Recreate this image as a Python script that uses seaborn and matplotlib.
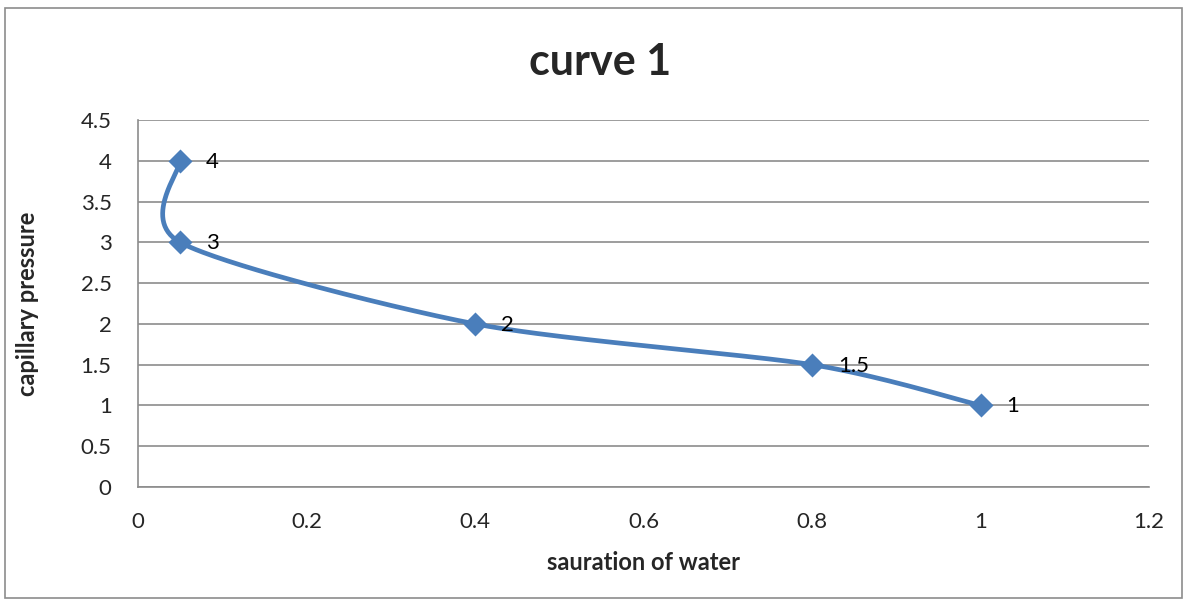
import numpy as np
import matplotlib
matplotlib.use("Agg")
import matplotlib.pyplot as plt
import seaborn as sns
from matplotlib.patches import Rectangle

saturation = [0.05, 0.05, 0.4, 0.8, 1.0]
pressure = [4, 3, 2, 1.5, 1]
point_labels = ["4", "3", "2", "1.5", "1"]
x_ticks = [0, 0.2, 0.4, 0.6, 0.8, 1, 1.2]
x_tick_labels = ["0", "0.2", "0.4", "0.6", "0.8", "1", "1.2"]
y_ticks = [0, 0.5, 1, 1.5, 2, 2.5, 3, 3.5, 4, 4.5]
y_tick_labels = ["0", "0.5", "1", "1.5", "2", "2.5", "3", "3.5", "4", "4.5"]

sns.set_theme(style="white")
plt.rcParams['font.family'] = ['Lato', 'DejaVu Sans']

W, H = 1187, 603
fig = plt.figure(figsize=(W / 100, H / 100), dpi=100)
ax = fig.add_axes([138 / W, 1 - 487 / H, (1149 - 138) / W, (487 - 120) / H])
ax.set_xlim(0, 1.2)
ax.set_ylim(0, 4.5)

blue = "#4A7EBB"

# smooth curve (cubic Bezier through points in display space, like Excel smoothing)
pts = ax.transData.transform(np.column_stack([saturation, pressure]))
P = np.vstack([pts[0], pts, pts[-1]])
curve = []
k = 1 / 7.5
for i in range(1, len(P) - 2):
    p0, p1, p2, p3 = P[i - 1], P[i], P[i + 1], P[i + 2]
    c1 = p1 + (p2 - p0) * k
    c2 = p2 - (p3 - p1) * k
    t = np.linspace(0, 1, 60)[:, None]
    seg = (1 - t) ** 3 * p1 + 3 * (1 - t) ** 2 * t * c1 + 3 * (1 - t) * t ** 2 * c2 + t ** 3 * p2
    curve.append(seg)
curve = ax.transData.inverted().transform(np.vstack(curve))
ax.plot(curve[:, 0], curve[:, 1], color=blue, lw=3.4, solid_capstyle="round", zorder=3)

sns.scatterplot(x=saturation, y=pressure, ax=ax, marker="D", s=150, color=blue,
                edgecolor=blue, linewidth=0, zorder=4, legend=False)

for xv, yv, lab in zip(saturation, pressure, point_labels):
    ax.annotate(lab, (xv, yv), xytext=(26, -1), textcoords="offset pixels",
                ha="left", va="center", fontsize=16, color="black")

ax.set_xticks(x_ticks)
ax.set_xticklabels(x_tick_labels, fontsize=16)
ax.set_yticks(y_ticks)
ax.set_yticklabels(y_tick_labels, fontsize=16)
ax.tick_params(axis="x", pad=18, length=0)
ax.tick_params(axis="y", pad=19, length=0)
ax.yaxis.grid(True, color="#8C8C8C", lw=1.2)
ax.xaxis.grid(False)
for s in ["top", "right"]:
    ax.spines[s].set_visible(False)
for s in ["left", "bottom"]:
    ax.spines[s].set_color("#8C8C8C")
    ax.spines[s].set_linewidth(1.2)

ax.set_xlabel("sauration of water", fontsize=17, fontweight="bold", labelpad=14)
ax.set_ylabel("capillary pressure", fontsize=17, fontweight="bold", labelpad=30)
fig.text(600 / W, 1 - 62 / H, "curve 1", ha="center", va="center", fontsize=31, fontweight="bold")

fig.patches.append(Rectangle((5 / W, 1 - 598 / H), (1182 - 5) / W, (598 - 8) / H,
                             transform=fig.transFigure, fill=False, edgecolor="#8C8C8C", lw=1.2))

fig.savefig("out.png", dpi=100)
